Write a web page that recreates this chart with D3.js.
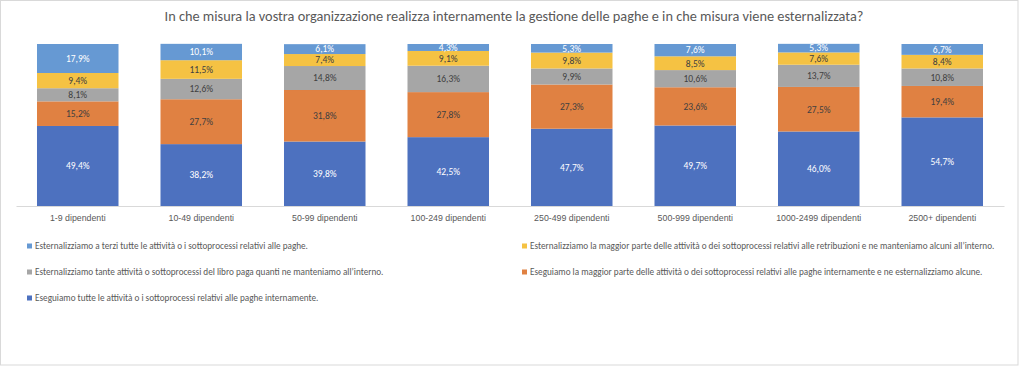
<!DOCTYPE html>
<html><head><meta charset="utf-8">
<script src="https://cdn.jsdelivr.net/npm/d3@7"></script>
<style>
html,body{margin:0;padding:0;background:#fff;}
svg{display:block;font-family:Carlito,"Liberation Sans Narrow","DejaVu Sans Condensed","Open Sans",sans-serif;}
</style></head>
<body>
<svg id="chart" width="1020" height="367"></svg>
<script>
const title = "In che misura la vostra organizzazione realizza internamente la gestione delle paghe e in che misura viene esternalizzata?";
const categories = ["1-9 dipendenti","10-49 dipendenti","50-99 dipendenti","100-249 dipendenti","250-499 dipendenti","500-999 dipendenti","1000-2499 dipendenti","2500+ dipendenti"];
// series from bottom to top
const seriesNames = [
  "Eseguiamo tutte le attività o i sottoprocessi relativi alle paghe internamente.",
  "Eseguiamo la maggior parte delle attività o dei sottoprocessi relativi alle paghe internamente e ne esternalizziamo alcune.",
  "Esternalizziamo tante attività o sottoprocessi del libro paga quanti ne manteniamo all’interno.",
  "Esternalizziamo la maggior parte delle attività o dei sottoprocessi relativi alle retribuzioni e ne manteniamo alcuni all’interno.",
  "Esternalizziamo a terzi tutte le attività o i sottoprocessi relativi alle paghe."
];
const internalAll   = [49.4, 38.2, 39.8, 42.5, 47.7, 49.7, 46.0, 54.7];
const internalMost  = [15.2, 27.7, 31.8, 27.8, 27.3, 23.6, 27.5, 19.4];
const half          = [8.1, 12.6, 14.8, 16.3, 9.9, 10.6, 13.7, 10.8];
const externalMost  = [9.4, 11.5, 7.4, 9.1, 9.8, 8.5, 7.6, 8.4];
const externalAll   = [17.9, 10.1, 6.1, 4.3, 5.3, 7.6, 5.3, 6.7];
const seriesValues = [internalAll, internalMost, half, externalMost, externalAll];
const colors = ["#4d71bf", "#e08142", "#a6a6a6", "#f5c243", "#6699d3"];
const labelColors = ["#ffffff", "#404040", "#404040", "#404040", "#ffffff"];
const yTicks = [0, 100];

const svg = d3.select("#chart");
svg.append("rect").attr("x",0.5).attr("y",0.5).attr("width",1017.5).attr("height",364.5)
  .attr("fill","#fff").attr("stroke","#d9d9d9");

svg.append("text").attr("x",514).attr("y",21).attr("text-anchor","middle")
  .attr("font-size",14.3).attr("fill","#595959").text(title);

const x = d3.scaleBand().domain(categories).range([16,1004]).paddingInner(0.34).paddingOuter(0.17);
const y = d3.scaleLinear().domain([yTicks[0], yTicks[1]]).range([206,44]);

const rows = categories.map((c,i)=>{const o={cat:c}; seriesValues.forEach((s,k)=>o["s"+k]=s[i]); return o;});
const stack = d3.stack().keys(seriesValues.map((s,k)=>"s"+k));
const stacked = stack(rows);

const g = svg.append("g");
stacked.forEach((layer,k)=>{
  const lg = g.append("g");
  lg.selectAll("rect").data(layer).join("rect")
    .attr("x",d=>x(d.data.cat)).attr("width",x.bandwidth())
    .attr("y",d=>y(d[1])).attr("height",d=>y(d[0])-y(d[1]))
    .attr("fill",colors[k]);
  lg.selectAll("text").data(layer).join("text")
    .attr("x",d=>x(d.data.cat)+x.bandwidth()/2)
    .attr("y",d=>(y(d[0])+y(d[1]))/2)
    .attr("dy","0.35em").attr("text-anchor","middle")
    .attr("font-size",9.5).attr("fill",labelColors[k])
    .text(d=>d3.format(".1f")(d[1]-d[0]).replace(".",",")+"%");
});

// x axis
const xAxis = svg.append("g").attr("transform","translate(0,206)")
  .call(d3.axisBottom(x).tickSize(0).tickPadding(9));
xAxis.select(".domain").attr("stroke","#d9d9d9");
xAxis.selectAll("text").attr("font-size",8.8).attr("fill","#595959").attr("font-family",null);

// legend
const legendOrder = [4,3,2,1,0];
const legend = svg.append("g");
legendOrder.forEach((k,i)=>{
  const col = i%2, row = Math.floor(i/2);
  const lx = col===0 ? 27 : 522, ly = 246 + row*26;
  legend.append("rect").attr("x",lx).attr("y",ly-2.5).attr("width",5).attr("height",5).attr("fill",colors[k]);
  legend.append("text").attr("x",lx+8).attr("y",ly).attr("dy","0.35em")
    .attr("font-size",9.2).attr("fill","#595959").text(seriesNames[k]);
});
</script>
</body></html>
